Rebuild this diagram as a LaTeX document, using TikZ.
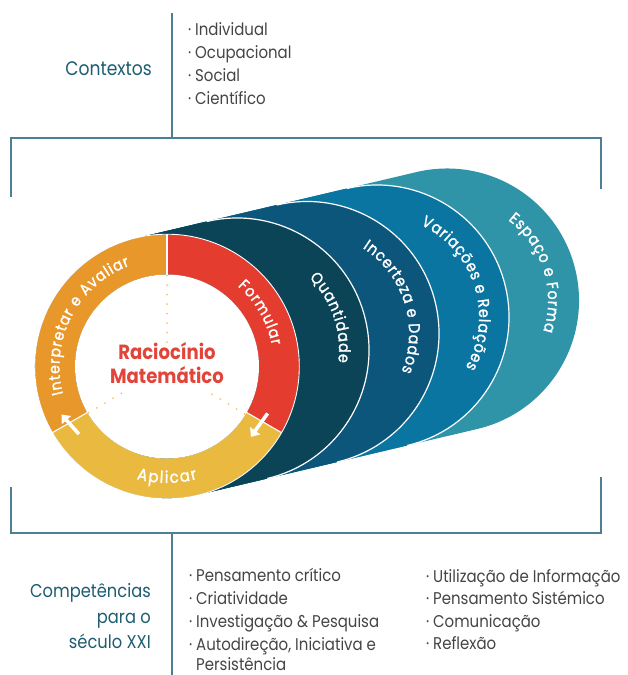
\documentclass[tikz,border=0pt]{standalone}
\usepackage{fontspec}
\setmainfont{Poppins}[FakeStretch=0.88]
\newfontfamily\ringfam{Poppins}[FakeStretch=0.9,FakeBold=1.5]
\usetikzlibrary{calc,decorations.text,arrows.meta}
\definecolor{orangeC}{HTML}{E8972A}
\definecolor{redC}{HTML}{E43D30}
\definecolor{yellowC}{HTML}{E9BA3F}
\definecolor{quaC}{HTML}{0B4457}
\definecolor{incC}{HTML}{0D567B}
\definecolor{varC}{HTML}{0A75A0}
\definecolor{espC}{HTML}{2F94A7}
\definecolor{frameC}{HTML}{4F7F94}
\definecolor{labelC}{HTML}{1E5D72}
\definecolor{listC}{HTML}{454545}
\definecolor{centerC}{HTML}{E2443A}
\definecolor{dotC}{HTML}{F3C46B}
\newcommand\arcfont{\ringfam\fontsize{15.5}{15.5}\selectfont}
\newcommand\aplfont{\ringfam\fontsize{16.5}{16.5}\selectfont}
\newcommand\layfont{\ringfam\fontsize{15.8}{15.8}\selectfont}
\begin{document}
\begin{tikzpicture}[x=1pt,y=1pt,
  frameline/.style={draw=frameC,line width=1.3},
  listitem/.style={anchor=base west,inner sep=0,text=listC,font=\fontsize{17}{19}\selectfont},
  headlabel/.style={anchor=base east,inner sep=0,text=labelC,font=\fontsize{18.5}{22}\selectfont},
  centertext/.style={anchor=base,inner sep=0,text=centerC,font=\bfseries\fontsize{20.5}{22}\selectfont},
  dotline/.style={dotC,line width=2,line cap=round,dash pattern=on 0pt off 9.5pt},
  ringarrow/.style={white,line width=3.6,-{Triangle[length=7.5pt,width=12pt]}},
  whitearc/.style={white,line width=1.2},
  ringtext/.style={decorate,decoration={text effects along path,text={#1},text align=center,
     text effects/.cd,text along path,characters={text=white,font=\arcfont},
     character widths={inner xsep=0.5pt,font=\arcfont}}},
  apltext/.style={decorate,decoration={text effects along path,text={#1},text align=center,
     text effects/.cd,text along path,characters={text=white,font=\aplfont},
     character widths={inner xsep=0.8pt,font=\aplfont}}},
  laytext/.style={decorate,decoration={text effects along path,text={#1},text align=center,
     text effects/.cd,text along path,characters={text=white,font=\layfont},
     character widths={inner xsep=0.4pt,font=\layfont}}}]
\useasboundingbox (0,0) rectangle (627,-675);
\fill[white] (0,0) rectangle (627,-675);
% centres of the disks
\coordinate (c0) at (167,-366.5);
\coordinate (c1) at (237,-350);
\coordinate (c2) at (307,-333.5);
\coordinate (c3) at (377,-317);
\coordinate (c4) at (447,-300.5);
% layers, back to front
\foreach \k/\col in {4/espC,3/varC,2/incC,1/quaC}{
  \fill[\col] ($(c0)+(103.26:132)$) -- ($(c\k)+(103.26:132)$)
     arc[start angle=103.26,end angle=-76.74,radius=132]
     -- ($(c0)+(-76.74:132)$)
     arc[start angle=-76.74,end angle=-256.74,radius=132] -- cycle;
}
\foreach \k in {1,2,3}{
  \draw[whitearc] ($(c\k)+(103.26:132)$) arc[start angle=103.26,end angle=-76.74,radius=132];
}
% ring
\fill[orangeC] ($(c0)+(90:132)$) arc[start angle=90,end angle=210,radius=132]
   -- ($(c0)+(210:92)$) arc[start angle=210,end angle=90,radius=92] -- cycle;
\fill[redC] ($(c0)+(90:132)$) arc[start angle=90,end angle=-30,radius=132]
   -- ($(c0)+(-30:92)$) arc[start angle=-30,end angle=90,radius=92] -- cycle;
\fill[yellowC] ($(c0)+(210:132)$) arc[start angle=210,end angle=330,radius=132]
   -- ($(c0)+(330:92)$) arc[start angle=330,end angle=210,radius=92] -- cycle;
\fill[white] (c0) circle[radius=92];
\draw[white,line width=0.9] (c0) circle[radius=132.3];
\foreach \a in {90,-30,210}{
  \draw[white,line width=1.1] ($(c0)+(\a:91.5)$) -- ($(c0)+(\a:132.5)$);
}
% dotted spokes
\draw[dotline] ($(c0)+(90:91)$) -- ($(c0)+(90:24)$);
\draw[dotline] ($(c0)+(-31.5:91)$) -- ($(c0)+(-31.5:48)$);
\draw[dotline] ($(c0)+(210.5:91)$) -- ($(c0)+(210.5:44)$);
% arrows
\draw[ringarrow] ($(c0)+(-25:111)$) -- ($(c0)+(-40:109.5)$);
\draw[ringarrow] ($(c0)+(217.5:111)$) -- ($(c0)+(204.5:116)$);
% ring texts
\path[ringtext=Formular] ($(c0)+(85:107)$) arc[start angle=85,end angle=-25,radius=107];
\path[ringtext=Interpretar e Avaliar] ($(c0)+(222:107.5)$) arc[start angle=222,end angle=83,radius=107.5];
\path[apltext=Aplicar] ($(c0)+(-140:116.5)$) arc[start angle=-140,end angle=-40,radius=116.5];
% layer texts
\path[laytext=Quantidade] ($(c1)+(94:102)$) arc[start angle=94,end angle=-56,radius=102];
\path[laytext=Incerteza e Dados] ($(c2)+(102.5:102)$) arc[start angle=102.5,end angle=-67.5,radius=102];
\path[laytext=Variações e Relações] ($(c3)+(107.5:102)$) arc[start angle=107.5,end angle=-72.5,radius=102];
\path[laytext=Espaço e Forma] ($(c4)+(102.5:101)$) arc[start angle=102.5,end angle=-67.5,radius=101];
% centre text
\node[centertext] (rm1) at (167,-359) {Raciocínio};
\node[centertext] (rm2) at (167,-383) {Matemático};
% frame
\coordinate (ftl) at (11,-138);
\coordinate (ftr) at (601,-138);
\coordinate (fbl) at (11,-533);
\coordinate (fbr) at (601,-533);
\coordinate (vt1) at (172,-13);
\coordinate (vt2) at (172,-138);
\coordinate (vb1) at (172,-533);
\coordinate (vb2) at (172,-675);
\draw[frameline] ($(ftl)+(0,-59)$) -- (ftl) -- (ftr) -- ($(ftr)+(0,-51)$);
\draw[frameline] ($(fbl)+(0,46)$) -- (fbl) -- (fbr) -- ($(fbr)+(0,56)$);
\draw[frameline] (vt1) -- (vt2);
\draw[frameline] (vb1) -- (vb2);
% labels
\node[headlabel,font=\fontsize{19.5}{22}\selectfont] (ctx) at (152,-75) {Contextos};
\node[headlabel] (cmp1) at (151,-597) {Competências};
\node[headlabel] (cmp2) at (151,-623) {para o};
\node[headlabel] (cmp3) at (151,-648) {século XXI};
% lists
\node[listitem] (t1) at (195,-35) {\llap{·\kern4pt}Individual};
\node[listitem] (t2) at (195,-58) {\llap{·\kern4pt}Ocupacional};
\node[listitem] (t3) at (195,-81) {\llap{·\kern4pt}Social};
\node[listitem] (t4) at (195,-104) {\llap{·\kern4pt}Científico};
\node[listitem] (b1) at (196,-581) {\llap{·\kern4pt}Pensamento crítico};
\node[listitem] (b2) at (196,-604) {\llap{·\kern4pt}Criatividade};
\node[listitem] (b3) at (196,-627) {\llap{·\kern4pt}Investigação \& Pesquisa};
\node[listitem] (b4) at (196,-650) {\llap{·\kern4pt}Autodireção, Iniciativa e};
\node[listitem] (b5) at (196,-670) {Persistência};
\node[listitem] (r1) at (433,-582) {\llap{·\kern4pt}Utilização de Informação};
\node[listitem] (r2) at (433,-604) {\llap{·\kern4pt}Pensamento Sistémico};
\node[listitem] (r3) at (433,-627) {\llap{·\kern4pt}Comunicação};
\node[listitem] (r4) at (433,-649) {\llap{·\kern4pt}Reflexão};
\end{tikzpicture}
\end{document}
